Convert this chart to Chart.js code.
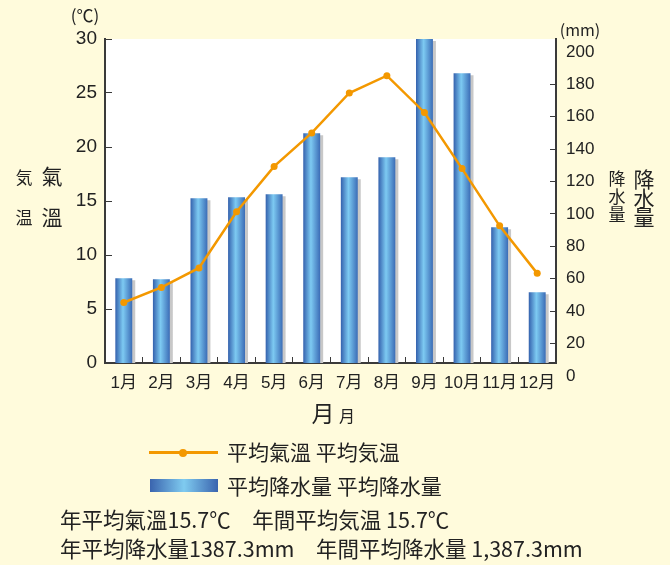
<!DOCTYPE html>
<html lang="ja">
<head>
<meta charset="utf-8">
<title>平均氣溫・平均降水量</title>
<script src="https://cdn.jsdelivr.net/npm/chart.js@4.4.1/dist/chart.umd.min.js"></script>
<style>
    html, body { margin: 0; padding: 0; background: #fffbdc; }
    #wrap { position: relative; width: 670px; height: 565px; overflow: hidden;
            font-family: "Noto Sans CJK JP", "Liberation Sans", sans-serif; color: #222; }
    #chart { position: absolute; left: 0; top: 0; }
    .c { position: absolute; white-space: nowrap; line-height: 1; transform: translate(-50%, -50%); }
    .l { position: absolute; white-space: nowrap; line-height: 1; transform: translateY(-50%); }
</style>
</head>
<body>
<div id="wrap">
    <canvas id="chart" width="670" height="565"></canvas>

    <!-- 単位 -->
    <div class="c" style="left:85px; top:14px; font-size:17px;">(℃)</div>
    <div class="c" style="left:580px; top:29px; font-size:16px;">(mm)</div>

    <!-- 左軸タイトル -->
    <div class="c" style="left:24px; top:176px; font-size:17px;">気</div>
    <div class="c" style="left:24px; top:216px; font-size:17px;">温</div>
    <div class="c" style="left:52px; top:175px; font-size:21px;">氣</div>
    <div class="c" style="left:52px; top:216px; font-size:21px;">溫</div>

    <!-- 右軸タイトル -->
    <div class="c" style="left:617px; top:177px; font-size:17px;">降</div>
    <div class="c" style="left:617px; top:195px; font-size:17px;">水</div>
    <div class="c" style="left:617px; top:213px; font-size:17px;">量</div>
    <div class="c" style="left:644px; top:178px; font-size:21px;">降</div>
    <div class="c" style="left:644px; top:197px; font-size:21px;">水</div>
    <div class="c" style="left:644px; top:216px; font-size:21px;">量</div>

    <!-- 横軸タイトル -->
    <div class="c" style="left:323px; top:412px; font-size:23px;">月</div>
    <div class="c" style="left:347px; top:415px; font-size:16px;">月</div>

    <!-- 凡例 -->
    <div style="position:absolute; left:149px; top:451px; width:69px; height:3px; background:#f39800;"></div>
    <div style="position:absolute; left:179px; top:449px; width:8px; height:8px; border-radius:50%; background:#f39800;"></div>
    <div class="l" style="left:227px; top:451px; font-size:21px;">平均氣溫 平均気温</div>
    <div style="position:absolute; left:150px; top:479px; width:68px; height:13px;
                background:linear-gradient(to right, #3a64ae, #7fcbf0 50%, #3a64ae);"></div>
    <div class="l" style="left:227px; top:485px; font-size:21px;">平均降水量 平均降水量</div>

    <!-- 年平均 -->
    <div class="l" style="left:60px; top:519px; font-size:21.5px;">年平均氣溫15.7℃　年間平均気温 15.7℃</div>
    <div class="l" style="left:60px; top:548px; font-size:21.5px;">年平均降水量1387.3mm　年間平均降水量 1,387.3mm</div>
</div>

<script>
// 月
const months = ['1月', '2月', '3月', '4月', '5月', '6月', '7月', '8月', '9月', '10月', '11月', '12月'];
// 平均気温 (℃)
const avgTemp = [5.6, 7.0, 8.8, 14.0, 18.2, 21.3, 25.0, 26.6, 23.2, 18.0, 12.7, 8.3];
// 平均降水量 (mm)
const avgRain = [60.3, 59.7, 109.7, 110.3, 112.2, 149.8, 122.6, 135.0, 208.0, 186.8, 91.8, 51.7];
// 目盛
const tempTicks = [0, 5, 10, 15, 20, 25, 30];
const rainTicks = [0, 20, 40, 60, 80, 100, 120, 140, 160, 180, 200];

const tickFont = "'Liberation Sans', 'Noto Sans CJK JP', sans-serif";
const axisColor = '#3a3a3a';
const barPct = 0.45;

// 棒の円柱風グラデーション
function barGradient(ctx) {
    const chart = ctx.chart;
    const xs = chart.scales.x;
    const fallback = '#4f8fd4';
    if (!xs || ctx.type !== 'data') return fallback;
    const cx = xs.getPixelForValue(ctx.dataIndex);
    const w = xs.width / months.length * barPct;
    if (!isFinite(cx) || !isFinite(w) || w <= 0) return fallback;
    const g = chart.ctx.createLinearGradient(cx - w / 2, 0, cx + w / 2, 0);
    g.addColorStop(0, '#3461ad');
    g.addColorStop(0.45, '#7dcaf2');
    g.addColorStop(1, '#3b6cb6');
    return g;
}

// 描画領域の白背景
const plotBg = {
    id: 'plotBg',
    beforeDraw(chart) {
        const { ctx, chartArea: a } = chart;
        ctx.save();
        ctx.fillStyle = '#ffffff';
        ctx.fillRect(a.left, a.top, a.right - a.left, a.bottom - a.top);
        ctx.restore();
    }
};

// 棒の影
const barShadow = {
    id: 'barShadow',
    beforeDatasetDraw(chart, args) {
        if (args.meta.type !== 'bar') return;
        const c = chart.ctx;
        c.save();
        c.shadowColor = '#c8c8c8';
        c.shadowOffsetX = 3;
        c.shadowOffsetY = 2;
        c.shadowBlur = 0;
    },
    afterDatasetDraw(chart, args) {
        if (args.meta.type === 'bar') chart.ctx.restore();
    }
};

new Chart(document.getElementById('chart'), {
    type: 'bar',
    data: {
        labels: months,
        datasets: [{
            type: 'line',
            label: '平均氣溫',
            data: avgTemp,
            yAxisID: 'y',
            order: 0,
            borderColor: '#f39800',
            borderWidth: 2.5,
            pointRadius: 3.5,
            pointBackgroundColor: '#f39800',
            pointBorderWidth: 0,
            tension: 0
        }, {
            type: 'bar',
            label: '平均降水量',
            data: avgRain,
            yAxisID: 'y2',
            order: 1,
            backgroundColor: barGradient,
            barPercentage: barPct,
            categoryPercentage: 1.0,
            clip: 0
        }]
    },
    options: {
        responsive: false,
        animation: false,
        events: [],
        layout: { padding: { top: 39, bottom: 172, left: 0, right: 0 } },
        plugins: {
            legend: { display: false },
            tooltip: { enabled: false }
        },
        scales: {
            x: {
                grid: { offset: true, drawOnChartArea: false, tickLength: -6, color: axisColor },
                border: { color: axisColor, width: 2 },
                ticks: {
                    font: { family: tickFont, size: 17 },
                    color: '#222',
                    padding: 16,
                    maxRotation: 0,
                    autoSkip: false
                },
                afterFit: s => { s.height = 30; }
            },
            y: {
                position: 'left',
                min: 0,
                max: 30,
                afterBuildTicks: s => { s.ticks = tempTicks.map(v => ({ value: v })); },
                grid: { drawOnChartArea: false, tickLength: -7, color: axisColor },
                border: { color: axisColor, width: 2 },
                ticks: { font: { family: tickFont, size: 19 }, color: '#222', padding: 15, autoSkip: false },
                afterFit: s => { s.width = 105; }
            },
            y2: {
                position: 'right',
                min: 8,
                max: 208,
                beginAtZero: false,
                afterBuildTicks: s => { s.ticks = rainTicks.map(v => ({ value: v })); },
                grid: {
                    drawOnChartArea: false,
                    tickLength: -6,
                    color: c => (c.tick && (c.tick.value === 0 || c.tick.value === 200)) ? 'rgba(0,0,0,0)' : axisColor
                },
                border: { color: axisColor, width: 2 },
                ticks: { font: { family: tickFont, size: 17 }, color: '#222', padding: 16, autoSkip: false },
                afterFit: s => { s.width = 114; }
            }
        }
    },
    plugins: [plotBg, barShadow]
});
</script>
</body>
</html>
